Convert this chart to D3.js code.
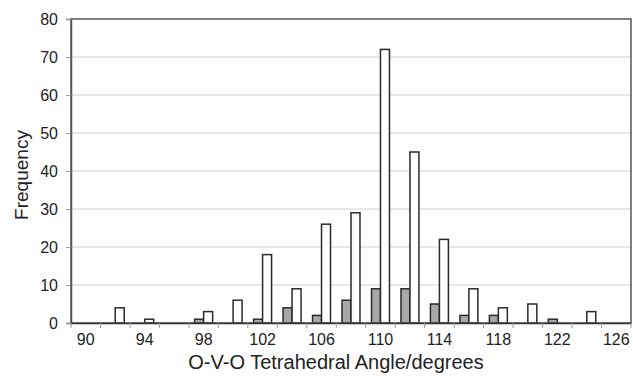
<!DOCTYPE html>
<html>
<head>
<meta charset="utf-8">
<script src="https://cdn.jsdelivr.net/npm/d3@7"></script>
<style>
  body { margin: 0; background: #fff; }
  text { font-family: "Liberation Sans", Arial, sans-serif; }
</style>
</head>
<body>
<div id="chart"></div>
<script>
// categories (degrees) and the two series
const angles = ['90','92','94','96','98','100','102','104','106','108','110','112','114','116','118','120','122','124','126'];
const greyCounts = [0, 0, 0, 0, 1, 0, 1, 4, 2, 6, 9, 9, 5, 2, 2, 0, 1, 0, 0];
const whiteCounts = [0, 4, 1, 0, 3, 6, 18, 9, 26, 29, 72, 45, 22, 9, 4, 5, 0, 3, 0];
const yTicks = [0, 10, 20, 30, 40, 50, 60, 70, 80];
const xLabels = ['90','94','98','102','106','110','114','118','122','126'];

const width = 633, height = 381;
const margin = { top: 19, right: 2, bottom: 58, left: 71 };
const innerW = width - margin.left - margin.right;
const innerH = height - margin.top - margin.bottom;

const svg = d3.select('#chart').append('svg')
    .attr('width', width)
    .attr('height', height);

const g = svg.append('g')
    .attr('transform', `translate(${margin.left},${margin.top})`);

const x = d3.scaleBand().domain(angles).range([0, innerW]).padding(0);
const x1 = d3.scaleBand().domain(['grey', 'white'])
    .range([0, x.bandwidth()])
    .paddingInner(0).paddingOuter(0.64);
const y = d3.scaleLinear().domain([0, 80]).range([innerH, 0]);

// gridlines
g.selectAll('.grid')
    .data(yTicks.filter(d => d > 0 && d < 80))
    .join('line')
    .attr('class', 'grid')
    .attr('x1', 0).attr('x2', innerW)
    .attr('y1', d => y(d)).attr('y2', d => y(d))
    .attr('stroke', '#d0d0d0').attr('stroke-width', 1);

// bars
const rows = angles.map((a, i) => ({ a, grey: greyCounts[i], white: whiteCounts[i] }));
const groups = g.selectAll('.cat')
    .data(rows)
    .join('g')
    .attr('class', 'cat')
    .attr('transform', d => `translate(${x(d.a)},0)`);

groups.selectAll('rect')
    .data(d => ['grey', 'white'].map(k => ({ k, v: d[k] })).filter(e => e.v > 0))
    .join('rect')
    .attr('x', d => x1(d.k))
    .attr('y', d => y(d.v))
    .attr('width', x1.bandwidth())
    .attr('height', d => innerH - y(d.v))
    .attr('fill', d => d.k === 'grey' ? '#a8a8a8' : '#ffffff')
    .attr('stroke', '#2a2a2a')
    .attr('stroke-width', 1.5);

// frame
g.append('rect')
    .attr('x', 0).attr('y', 0)
    .attr('width', innerW).attr('height', innerH)
    .attr('fill', 'none')
    .attr('stroke', '#555').attr('stroke-width', 1.5);

// y axis
const yAxis = d3.axisLeft(y).tickValues(yTicks).tickSize(5).tickPadding(8);
g.append('g')
    .attr('class', 'y-axis')
    .call(yAxis)
    .call(s => s.select('.domain').attr('stroke', '#555').attr('stroke-width', 1.5))
    .call(s => s.selectAll('.tick line').attr('stroke', '#999'))
    .call(s => s.selectAll('text').style('font-size', '16px').attr('fill', '#222'));

// x axis: labels every other category, ticks on category boundaries
const xAxis = d3.axisBottom(x).tickValues(xLabels).tickSize(0).tickPadding(11);
g.append('g')
    .attr('class', 'x-axis')
    .attr('transform', `translate(0,${innerH})`)
    .call(xAxis)
    .call(s => s.select('.domain').attr('stroke', '#333').attr('stroke-width', 1.5))
    .call(s => s.selectAll('text').style('font-size', '16px').attr('fill', '#222'));

g.selectAll('.xtick')
    .data(angles.map(a => x(a)).concat([innerW]))
    .join('line')
    .attr('class', 'xtick')
    .attr('x1', d => d).attr('x2', d => d)
    .attr('y1', innerH).attr('y2', innerH + 5)
    .attr('stroke', '#999');

// axis titles
svg.append('text')
    .attr('transform', 'translate(28,175) rotate(-90)')
    .attr('text-anchor', 'middle')
    .attr('fill', '#222')
    .style('font-size', '19px')
    .text('Frequency');

svg.append('text')
    .attr('x', 336)
    .attr('y', 369)
    .attr('text-anchor', 'middle')
    .attr('fill', '#222')
    .style('font-size', '20px')
    .text('O-V-O Tetrahedral Angle/degrees');
</script>
</body>
</html>
